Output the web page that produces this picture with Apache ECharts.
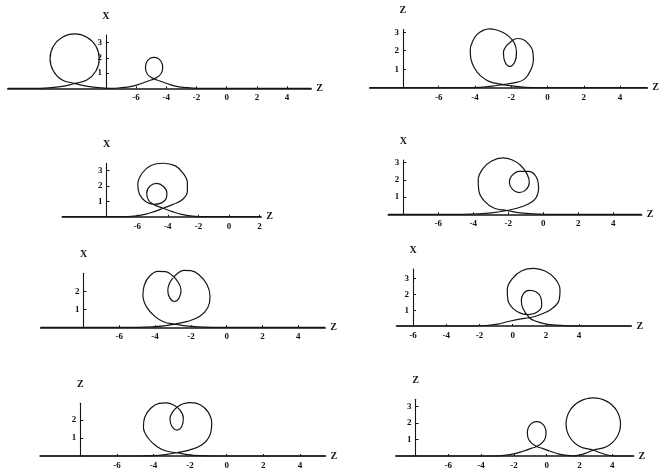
<!DOCTYPE html>
<html>
<head>
<meta charset="utf-8">
<script src="https://cdn.jsdelivr.net/npm/echarts@6/dist/echarts.min.js"></script>
<style>
html, body { margin: 0; padding: 0; background: #fff; }
#chart { width: 660px; height: 471px; }
</style>
</head>
<body>
<div id="chart"></div>
<script>
// tick labels and axis names
const X_TICKS = [-6, -4, -2, 0, 2, 4]
const Y_TICKS_3 = [1, 2, 3]
const Y_TICKS_2 = [1, 2]
const Y_NAMES = ['X', 'Z', 'X', 'X', 'X', 'X', 'Z', 'Z']
const X_NAME = 'Z'

// rod shapes, points are [z, x]
const curve1 = [
  [-14.5, 0], [-12.4, 0], [-11.6, 0.04], [-10.9, 0.13], [-10.4, 0.23], [-10.07, 0.32],
  [-9.26, 0.54], [-8.66, 1.14], [-8.44, 1.95], [-8.66, 2.77], [-9.26, 3.36], [-10.07, 3.58],
  [-10.89, 3.36], [-11.48, 2.77], [-11.7, 1.95], [-11.48, 1.14], [-10.89, 0.54], [-10.07, 0.32],
  [-9.7, 0.23], [-9.2, 0.13], [-8.5, 0.04], [-7.7, 0],
  [-7.0, 0.04], [-6.3, 0.13], [-5.7, 0.3], [-5.2, 0.48], [-4.81, 0.62], [-4.48, 0.82],
  [-4.28, 1.1], [-4.24, 1.42], [-4.35, 1.78], [-4.56, 1.98], [-4.81, 2.04], [-5.06, 1.98],
  [-5.27, 1.78], [-5.38, 1.42], [-5.34, 1.1], [-5.14, 0.82], [-4.81, 0.62], [-4.42, 0.48],
  [-3.92, 0.3], [-3.32, 0.13], [-2.62, 0.04], [-1.9, 0], [5.6, 0]
]
const curve2 = [
  [-9.8, 0], [-4.6, 0], [-3.7, 0.02], [-3.05, 0.08], [-2.47, 0.17], [-1.85, 0.26], [-1.29, 0.45],
  [-0.95, 0.9], [-0.78, 1.5], [-0.82, 2.0], [-1.08, 2.4], [-1.38, 2.62], [-1.68, 2.66],
  [-2.0, 2.5], [-2.3, 2.22], [-2.43, 1.9], [-2.35, 1.4], [-2.08, 1.15], [-1.8, 1.4],
  [-1.71, 1.95], [-1.83, 2.42], [-2.1, 2.75], [-2.45, 2.98], [-2.85, 3.13], [-3.2, 3.18],
  [-3.55, 3.1], [-3.88, 2.88], [-4.12, 2.52], [-4.26, 2.05], [-4.22, 1.55], [-4.02, 1.05],
  [-3.7, 0.65], [-3.2, 0.33], [-2.47, 0.17], [-1.85, 0.08], [-1.2, 0.02], [-0.4, 0], [5.5, 0]
]
const curve3 = [
  [-10.9, 0], [-7.0, 0], [-6.2, 0.04], [-5.5, 0.15], [-4.9, 0.33], [-4.3, 0.55], [-3.6, 0.82],
  [-3.0, 1.15], [-2.72, 1.65], [-2.72, 2.2], [-2.98, 2.8], [-3.5, 3.3], [-4.3, 3.47],
  [-5.1, 3.32], [-5.68, 2.82], [-5.96, 2.1], [-5.85, 1.45], [-5.45, 0.98], [-4.95, 0.8],
  [-4.4, 0.9], [-4.1, 1.2], [-4.06, 1.55], [-4.3, 1.98], [-4.72, 2.17], [-5.15, 2.0],
  [-5.38, 1.55], [-5.25, 1.05], [-4.85, 0.75], [-4.3, 0.55], [-3.7, 0.33], [-3.1, 0.15],
  [-2.4, 0.04], [-1.6, 0], [2.1, 0]
]
const curve4 = [
  [-8.86, 0], [-4.6, 0], [-3.7, 0.02], [-2.95, 0.08], [-2.09, 0.22], [-1.2, 0.45], [-0.5, 0.85],
  [-0.27, 1.55], [-0.42, 2.2], [-0.85, 2.5], [-1.39, 2.5], [-1.82, 2.22], [-1.94, 1.85],
  [-1.76, 1.45], [-1.39, 1.26], [-1.0, 1.42], [-0.8, 1.85], [-0.92, 2.32], [-1.3, 2.85],
  [-1.8, 3.17], [-2.3, 3.28], [-2.95, 3.1], [-3.45, 2.65], [-3.72, 2.0], [-3.68, 1.35],
  [-3.35, 0.75], [-2.8, 0.35], [-2.09, 0.22], [-1.3, 0.08], [-0.6, 0.02], [0.2, 0], [5.62, 0]
]
const curve5 = [
  [-10.4, 0], [-5.0, 0], [-4.2, 0.02], [-3.5, 0.08], [-2.89, 0.18], [-2.2, 0.33], [-1.5, 0.62],
  [-1.06, 1.1], [-0.93, 1.72], [-1.1, 2.4], [-1.55, 2.95], [-2.0, 3.18], [-2.4, 3.2],
  [-2.75, 3.02], [-3.02, 2.75], [-3.22, 2.42], [-3.29, 2.05], [-3.18, 1.65], [-2.93, 1.45],
  [-2.66, 1.65], [-2.55, 2.1], [-2.7, 2.52], [-3.05, 2.92], [-3.42, 3.13], [-3.85, 3.14],
  [-4.3, 2.88], [-4.6, 2.38], [-4.68, 1.8], [-4.48, 1.15], [-4.0, 0.6], [-3.5, 0.3],
  [-2.89, 0.18], [-2.3, 0.08], [-1.6, 0.02], [-0.8, 0], [5.5, 0]
]
const curve6 = [
  [-7.0, 0], [-2.4, 0], [-1.6, 0.03], [-0.9, 0.12], [-0.2, 0.3], [0.5, 0.45], [1.0, 0.52],
  [1.6, 0.7], [2.3, 1.05], [2.78, 1.6], [2.85, 2.3], [2.55, 3.0], [1.95, 3.48], [1.25, 3.65],
  [0.55, 3.5], [-0.02, 3.0], [-0.33, 2.3], [-0.28, 1.6], [0.05, 1.08], [0.5, 0.8], [1.0, 0.72],
  [1.5, 0.9], [1.75, 1.3], [1.7, 1.8], [1.42, 2.15], [1.0, 2.25], [0.65, 2.05], [0.52, 1.6],
  [0.62, 1.1], [1.0, 0.52], [1.4, 0.3], [1.95, 0.14], [2.6, 0.05], [3.4, 0.01], [4.2, 0], [7.15, 0]
]
const curve7 = [
  [-10.2, 0], [-4.9, 0], [-4.05, 0.02], [-3.35, 0.08], [-2.73, 0.18], [-2.05, 0.33], [-1.35, 0.62],
  [-0.92, 1.15], [-0.82, 1.85], [-1.02, 2.45], [-1.45, 2.85], [-1.95, 2.97], [-2.38, 2.9],
  [-2.7, 2.72], [-2.95, 2.45], [-3.1, 2.08], [-3.0, 1.65], [-2.72, 1.44], [-2.45, 1.65],
  [-2.37, 2.12], [-2.55, 2.55], [-2.9, 2.83], [-3.3, 2.95], [-3.7, 2.92], [-4.15, 2.65],
  [-4.48, 2.15], [-4.55, 1.6], [-4.3, 1.0], [-3.8, 0.52], [-3.3, 0.28], [-2.73, 0.18],
  [-2.15, 0.08], [-1.45, 0.02], [-0.65, 0], [5.4, 0]
]
const curve8 = [
  [-9.2, 0], [-3.2, 0], [-2.6, 0.04], [-2.0, 0.13], [-1.4, 0.3], [-0.95, 0.46], [-0.61, 0.58],
  [-0.3, 0.78], [-0.08, 1.1], [-0.04, 1.45], [-0.14, 1.8], [-0.35, 2.02], [-0.61, 2.08],
  [-0.87, 2.02], [-1.08, 1.8], [-1.18, 1.45], [-1.14, 1.1], [-0.92, 0.78], [-0.61, 0.58],
  [-0.27, 0.46], [0.18, 0.3], [0.7, 0.13], [1.25, 0.04], [1.6, 0.01],
  [2.0, 0.06], [2.45, 0.2], [2.84, 0.36], [3.67, 0.57], [4.28, 1.15], [4.5, 1.94], [4.28, 2.73],
  [3.67, 3.31], [2.84, 3.52], [2.01, 3.31], [1.4, 2.73], [1.18, 1.94], [1.4, 1.15], [2.01, 0.57],
  [2.84, 0.36], [3.25, 0.2], [3.7, 0.06], [4.2, 0], [5.3, 0]
]

const CURVES = [curve1, curve2, curve3, curve4, curve5, curve6, curve7, curve8]
const Y_TICKS = [Y_TICKS_3, Y_TICKS_3, Y_TICKS_3, Y_TICKS_3, Y_TICKS_2, Y_TICKS_3, Y_TICKS_2, Y_TICKS_3]

// where each panel sits: pixel of z=0 and of the axis, pixels per unit, visible range,
// and the z value at which the vertical axis stands
const PANELS = [
  { x0: 226.7, sx: 15.1, y0: 88.3, sy: 15.2, zMin: -14.5, zMax: 5.6, yMax: 3.5, yAt: -8 },
  { x0: 550.5, sx: 18.45, y0: 87.7, sy: 18.5, zMin: -9.8, zMax: 5.5, yMax: 3.15, yAt: -8 },
  { x0: 229, sx: 15.3, y0: 216.7, sy: 15.4, zMin: -10.9, zMax: 2.1, yMax: 3.46, yAt: -8 },
  { x0: 543.3, sx: 17.5, y0: 214.3, sy: 17.2, zMin: -8.86, zMax: 5.62, yMax: 3.15, yAt: -8 },
  { x0: 226.7, sx: 17.9, y0: 327.3, sy: 17.8, zMin: -10.4, zMax: 5.5, yMax: 3.03, yAt: -8 },
  { x0: 512.7, sx: 16.6, y0: 326, sy: 15.8, zMin: -7.0, zMax: 7.15, yMax: 3.6, yAt: -6 },
  { x0: 226.7, sx: 18.3, y0: 456, sy: 18, zMin: -10.2, zMax: 5.4, yMax: 2.93, yAt: -8 },
  { x0: 546.7, sx: 16.4, y0: 456, sy: 16.5, zMin: -9.2, zMax: 5.3, yMax: 3.44, yAt: -8 }
]

const FONT = { fontFamily: 'Liberation Serif', fontWeight: 'bold', fontSize: 10, color: '#111' }
const INK = '#151515'

const grid = []
const xAxis = []
const yAxis = []
const series = []

PANELS.forEach((p, i) => {
  const left = p.x0 + p.zMin * p.sx
  const width = (p.zMax - p.zMin) * p.sx
  const top = p.y0 - p.yMax * p.sy
  grid.push({ left, top, width, height: p.yMax * p.sy, containLabel: false })
  xAxis.push({
    type: 'value',
    gridIndex: i,
    min: p.zMin,
    max: p.zMax,
    name: X_NAME,
    nameLocation: 'end',
    nameGap: 5,
    nameTextStyle: FONT,
    axisLine: { onZero: false, lineStyle: { color: INK, width: 1.6 } },
    axisTick: { inside: true, length: 2, customValues: X_TICKS, lineStyle: { color: INK } },
    axisLabel: Object.assign({ margin: 5, customValues: X_TICKS }, FONT, { fontSize: 9 }),
    splitLine: { show: false }
  })
  yAxis.push({
    type: 'value',
    gridIndex: i,
    min: 0,
    max: p.yMax,
    // push the vertical axis in from the grid edge to its z position
    offset: -(p.yAt - p.zMin) * p.sx,
    name: Y_NAMES[i],
    nameLocation: 'end',
    nameGap: 14,
    nameTextStyle: FONT,
    axisLine: { show: true, onZero: false, lineStyle: { color: INK, width: 1.1 } },
    axisTick: { show: true, inside: true, length: 3, customValues: Y_TICKS[i], lineStyle: { color: INK } },
    axisLabel: Object.assign({ margin: 4, customValues: Y_TICKS[i] }, FONT, { fontSize: 9 }),
    splitLine: { show: false }
  })
  series.push({
    type: 'line',
    xAxisIndex: i,
    yAxisIndex: i,
    data: CURVES[i],
    smooth: 0.4,
    symbol: 'none',
    clip: false,
    silent: true,
    lineStyle: { color: INK, width: 1.2 }
  })
})

const chart = echarts.init(document.getElementById('chart'), null, { renderer: 'canvas' })
chart.setOption({
  backgroundColor: '#fff',
  animation: false,
  grid,
  xAxis,
  yAxis,
  series
})
</script>
</body>
</html>
